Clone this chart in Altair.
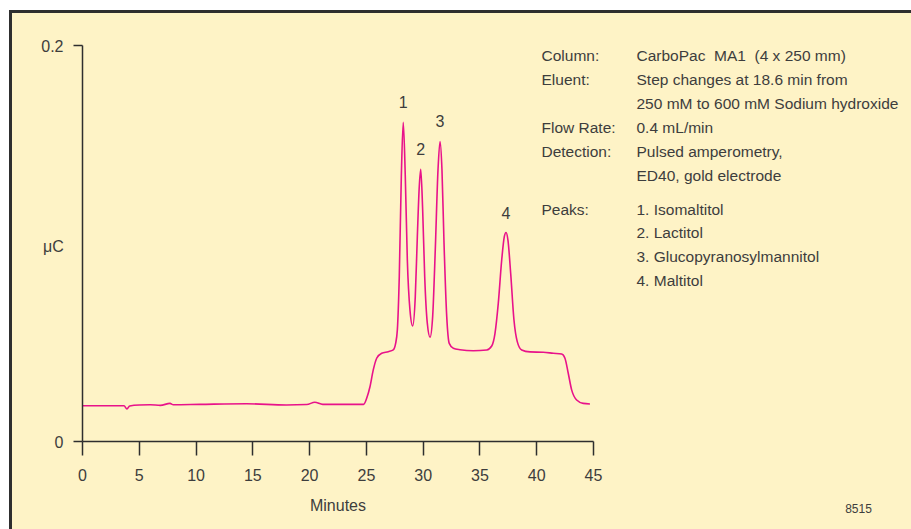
import altair as alt
import pandas as pd

# ---- data ----
minutes = [0, 2, 3.7, 3.96, 4.2, 5.05, 6.0, 6.9, 7.75, 8.04,
           10.4, 14.5, 18.0, 19.8, 20.5, 21.2, 24.8, 25.07, 25.36, 25.65,
           25.95, 26.39, 26.97, 27.41, 27.62, 27.77, 27.94, 28.12, 28.29, 28.47,
           28.65, 28.88, 29.12, 29.35, 29.53, 29.70, 29.83, 30.00, 30.18, 30.41,
           30.65, 30.88, 31.11, 31.35, 31.53, 31.70, 31.88, 32.12, 32.34, 32.70,
           33.29, 34.46, 35.64, 36.08, 36.37, 36.66, 36.96, 37.19, 37.34, 37.51,
           37.75, 38.04, 38.33, 38.72, 39.45, 40.62, 41.50, 42.24, 42.53, 42.82,
           43.12, 43.56, 44.14, 44.73]
response = [0.0178, 0.0178, 0.0178, 0.0162, 0.0177, 0.0182, 0.0183, 0.0180, 0.0190, 0.0183,
            0.0185, 0.0188, 0.0182, 0.0184, 0.0196, 0.0185, 0.0185, 0.0216, 0.0274, 0.0359,
            0.0418, 0.0443, 0.0451, 0.0460, 0.0493, 0.0561, 0.0830, 0.1335, 0.1609, 0.1335,
            0.0914, 0.0662, 0.0581, 0.0729, 0.1032, 0.1284, 0.1372, 0.1167, 0.0830, 0.0594,
            0.0524, 0.0628, 0.0965, 0.1369, 0.1513, 0.1369, 0.1000, 0.0628, 0.0493, 0.0468,
            0.0461, 0.0456, 0.0460, 0.0480, 0.0544, 0.0696, 0.0914, 0.1032, 0.1053, 0.1015,
            0.0847, 0.0611, 0.0502, 0.0460, 0.0450, 0.0448, 0.0443, 0.0439, 0.0418, 0.0342,
            0.0258, 0.0207, 0.0190, 0.0187]

peak_ids = ["1", "2", "3", "4"]
peak_minutes = [28.29, 29.83, 31.53, 37.34]
peak_response = [0.1609, 0.1372, 0.1513, 0.1053]

x_ticks = [0, 5, 10, 15, 20, 25, 30, 35, 40, 45]
y_ticks = [0, 0.2]

info_labels_a = ["Column:", "Eluent:"]
info_labels_b = ["Flow Rate:", "Detection:"]
info_values_1 = ["CarboPac\u00a0 MA1\u00a0 (4 x 250 mm)",
                 "Step changes at 18.6 min from",
                 "250 mM to 600 mM Sodium hydroxide",
                 "0.4 mL/min",
                 "Pulsed amperometry,",
                 "ED40, gold electrode"]
info_labels_2 = ["Peaks:"]
info_values_2 = ["1. Isomaltitol", "2. Lactitol", "3. Glucopyranosylmannitol", "4. Maltitol"]
figure_code = "8515"

# ---- styles ----
FONT = "Liberation Sans, Arial, sans-serif"
TEXT = "#3d3d3d"
AXIS = "#2e2e2e"
PINK = "#E8128A"
PANEL = "#FEF3C6"

trace = pd.DataFrame({"Minutes": minutes, "uC": response})
peaks = pd.DataFrame({"id": peak_ids, "Minutes": peak_minutes, "uC": peak_response})
one = pd.DataFrame({"k": [0]})

frame = alt.Chart(one).mark_rect(color=AXIS).encode(
    x=alt.value(-73), x2=alt.value(829), y=alt.value(-35), y2=alt.value(484))
panel = alt.Chart(one).mark_rect(color=PANEL).encode(
    x=alt.value(-70), x2=alt.value(829), y=alt.value(-32), y2=alt.value(484))

x_enc = alt.X("Minutes:Q",
              scale=alt.Scale(domain=[0, 45], nice=False, zero=False),
              axis=alt.Axis(values=x_ticks, title="Minutes", tickSize=14,
                            labelPadding=20, labelBaseline="middle",
                            labelFlush=False, labelOverlap=False,
                            titleY=64, titleBaseline="middle", zindex=1))
y_enc = alt.Y("uC:Q",
              scale=alt.Scale(domain=[0, 0.2], nice=False),
              axis=alt.Axis(values=y_ticks, format=".1~f", title="μC",
                            tickSize=9, labelPadding=10, labelFlush=False,
                            labelOffset=1,
                            titleAngle=0, titleX=-29, titleY=201.5,
                            titleAlign="center", titleBaseline="middle", zindex=1))

line = alt.Chart(trace).mark_line(color=PINK, strokeWidth=1.6,
                                  interpolate="monotone").encode(x=x_enc, y=y_enc)

labels = alt.Chart(peaks).mark_text(font=FONT, fontSize=16, color=TEXT,
                                    baseline="middle", dy=-19).encode(
    x="Minutes:Q", y="uC:Q", text="id:N")

def block(lines, x, y, lh):
    return alt.Chart(one).mark_text(text=lines, font=FONT, fontSize=15.5, color=TEXT,
                                    align="left", baseline="alphabetic",
                                    lineHeight=lh).encode(
        x=alt.value(x), y=alt.value(y))

t1a = block(info_labels_a, 459.5, 15.5, 24)
t1b = block(info_labels_b, 459.5, 87.5, 24)
t2 = block(info_values_1, 554.5, 15.5, 24)
t3 = block(info_labels_2, 459.5, 169.5, 23.7)
t4 = block(info_values_2, 554.5, 169.5, 23.7)

code = alt.Chart(one).mark_text(text=figure_code, font=FONT, fontSize=12, color=TEXT,
                                align="center", baseline="middle").encode(
    x=alt.value(776.5), y=alt.value(464))

chart = alt.layer(frame, panel, line, labels, t1a, t1b, t2, t3, t4, code).properties(
    width=511, height=396,
    padding={"left": 82, "top": 45, "right": 318, "bottom": 88},
    autosize=alt.AutoSizeParams(type="none"),
    background="white",
).configure_view(stroke=None).configure_axis(
    domainColor=AXIS, domainWidth=1.5, tickColor=AXIS, tickWidth=1.5,
    labelFont=FONT, labelFontSize=16, labelColor=TEXT,
    titleFont=FONT, titleFontSize=16, titleColor=TEXT, titleFontWeight="normal",
    grid=False,
)

chart.save("out.html", embed_options={"renderer": "svg", "actions": False})
